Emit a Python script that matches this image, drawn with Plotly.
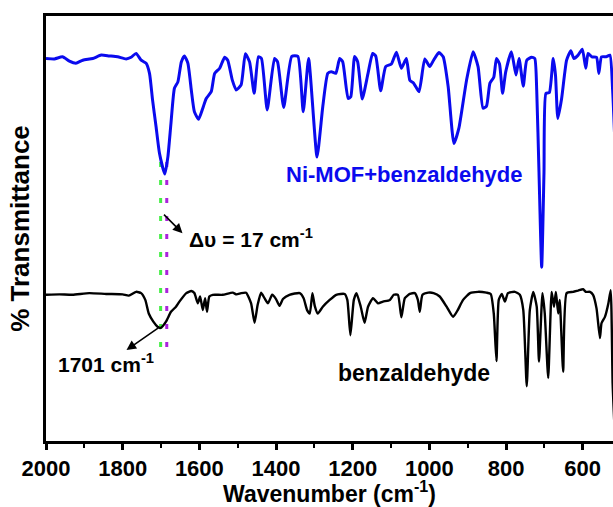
import plotly.graph_objects as go

# Ni-MOF + benzaldehyde spectrum (wavenumber, % transmittance offset)
ni_wn = [2000, 1978, 1957, 1939, 1922, 1904, 1878, 1856, 1835, 1813, 1791, 1778, 1765, 1752, 1739,
         1730, 1722, 1713, 1704, 1690, 1682, 1674, 1665, 1656, 1647, 1639, 1630, 1621, 1613, 1602,
         1591, 1582, 1569, 1560, 1547, 1534, 1526, 1514, 1504, 1491, 1480, 1469, 1457, 1446, 1438,
         1423, 1404, 1396, 1380, 1359, 1343, 1329, 1315, 1293, 1278, 1265, 1256, 1244, 1234, 1226,
         1212, 1205, 1195, 1187, 1175, 1160, 1148, 1140, 1127, 1114, 1099, 1086, 1073, 1060, 1051,
         1041, 1027, 1012, 999, 989, 975, 964, 951, 936, 923, 903, 886, 873, 860, 851, 842, 832,
         825, 817, 809, 801, 786, 774, 766, 755, 746, 733, 725, 720, 714, 707, 701, 696, 687, 677,
         671, 665, 655, 642, 631, 623, 612, 601, 592, 586, 576, 564, 558, 551, 539, 529, 522, 516]
ni_t = [90.0, 89.9, 90.4, 89.4, 88.9, 89.6, 90.0, 90.8, 90.6, 90.4, 89.9, 90.3, 91.2, 89.6, 88.9,
        86.5, 80.2, 74.0, 67.7, 62.8, 66.9, 74.8, 83.0, 84.5, 89.2, 90.6, 88.9, 82.6, 77.5, 75.7,
        78.3, 80.6, 82.2, 86.5, 87.7, 90.3, 89.6, 84.9, 82.6, 83.8, 91.1, 89.2, 81.8, 90.4, 90.0,
        77.9, 90.0, 89.2, 78.5, 90.5, 90.5, 77.5, 90.0, 66.8, 78.7, 86.5, 86.9, 86.5, 90.0, 89.2,
        80.6, 81.0, 90.5, 89.2, 80.5, 86.5, 91.2, 90.6, 82.4, 88.1, 88.7, 91.5, 87.7, 90.0, 84.9,
        84.2, 82.2, 89.9, 88.1, 89.6, 91.4, 90.4, 83.4, 70.0, 73.6, 84.9, 91.6, 88.1, 78.3, 78.8,
        84.2, 85.6, 90.0, 88.7, 81.8, 86.8, 91.6, 86.1, 90.0, 83.5, 89.6, 90.3, 90.0, 82.6, 63.1,
        40.9, 63.1, 81.8, 82.0, 90.0, 86.1, 75.9, 80.6, 89.6, 91.8, 90.0, 90.8, 92.2, 87.7, 91.2,
        90.4, 90.3, 86.5, 90.4, 90.4, 90.8, 82.6, 70.0]

# Benzaldehyde spectrum
bz_wn = [2000, 1965, 1931, 1887, 1843, 1800, 1784, 1765, 1752, 1741, 1732, 1720, 1709, 1701, 1687,
         1674, 1661, 1652, 1634, 1621, 1613, 1604, 1598, 1591, 1585, 1580, 1574, 1565, 1539, 1513,
         1503, 1491, 1478, 1465, 1456, 1448, 1439, 1430, 1421, 1410, 1400, 1391, 1382, 1365, 1338,
         1328, 1319, 1312, 1305, 1299, 1291, 1278, 1260, 1243, 1221, 1214, 1206, 1197, 1190, 1179,
         1169, 1160, 1147, 1134, 1121, 1103, 1093, 1082, 1073, 1064, 1051, 1038, 1030, 1025, 1018,
         1003, 989, 973, 955, 938, 926, 912, 894, 873, 851, 840, 832, 825, 819, 811, 803, 795, 777,
         764, 755, 746, 738, 729, 720, 714, 705, 699, 690, 681, 675, 670, 664, 660, 651, 642, 625,
         612, 599, 592, 581, 573, 564, 555, 551, 542, 533, 527, 522, 518]
bz_t = [34.4, 34.5, 34.4, 34.8, 34.6, 34.5, 34.2, 35.1, 34.8, 33.2, 30.0, 28.1, 26.9, 26.6, 28.1,
        30.4, 31.6, 32.8, 34.8, 35.3, 34.8, 32.4, 34.0, 30.8, 33.6, 30.4, 34.0, 34.4, 34.4, 34.9,
        34.5, 34.8, 34.9, 32.4, 27.8, 32.0, 34.9, 33.6, 32.4, 34.4, 33.4, 31.8, 33.4, 34.4, 34.8,
        33.6, 30.8, 30.0, 34.8, 31.8, 30.0, 31.6, 33.2, 34.4, 34.6, 33.2, 24.9, 33.2, 34.8, 31.6,
        27.8, 31.6, 33.6, 32.4, 32.8, 33.2, 34.4, 34.4, 29.1, 33.6, 34.6, 34.8, 33.2, 30.4, 34.4,
        34.9, 34.8, 34.0, 31.6, 29.2, 30.8, 33.2, 34.8, 35.1, 34.9, 34.6, 30.0, 18.8, 33.2, 34.6,
        32.8, 34.8, 35.1, 34.4, 30.8, 12.9, 30.8, 35.1, 31.6, 18.7, 34.8, 30.0, 14.8, 35.1, 31.6,
        35.1, 30.0, 33.2, 16.3, 34.8, 35.1, 35.4, 35.7, 35.1, 35.1, 34.4, 31.2, 24.2, 27.7, 29.2,
        32.4, 35.5, 13.6, 5.0]

# Marker lines (C=O band positions)
mark_wn = [1701, 1685]
mark_colors = ["#44ee44", "#aa22dd"]
mark_span = [22.1, 67.8]

FONT = "Liberation Sans, Arial, sans-serif"

fig = go.Figure()
for wn, col in zip(mark_wn, mark_colors):
    fig.add_trace(go.Scatter(x=[wn, wn], y=mark_span, mode="lines",
                             line=dict(color=col, width=3, dash="5px,13px"),
                             hoverinfo="skip", showlegend=False))
fig.add_trace(go.Scatter(x=ni_wn, y=ni_t, mode="lines",
                         line=dict(color="#0a0aee", width=3, shape="spline", smoothing=0.5),
                         showlegend=False))
fig.add_trace(go.Scatter(x=bz_wn, y=bz_t, mode="lines",
                         line=dict(color="black", width=2.4, shape="spline", smoothing=0.5),
                         showlegend=False))

annos = [
    dict(x=1064, y=62.6, text="<b>Ni-MOF+benzaldehyde</b>", showarrow=False,
         font=dict(size=22, color="#0a0aee", family=FONT), xanchor="center", yanchor="middle"),
    dict(x=1041, y=16.0, text="<b>benzaldehyde</b>", showarrow=False,
         font=dict(size=23, color="black", family=FONT), xanchor="center", yanchor="middle"),
    dict(x=1631, y=47.8, text="<b>Δυ = 17 cm<sup>-1</sup></b>", showarrow=False,
         font=dict(size=21, color="black", family=FONT), xanchor="left", yanchor="middle"),
    dict(x=1973, y=18.4, text="<b>1701 cm<sup>-1</sup></b>", showarrow=False,
         font=dict(size=21, color="black", family=FONT), xanchor="left", yanchor="middle"),
    dict(x=1644, y=48.9, text="", showarrow=True, arrowhead=2, arrowsize=1.2,
         arrowwidth=1.6, arrowcolor="black", ax=-20, ay=-20),
    dict(x=1790, y=21.4, text="", showarrow=True, arrowhead=2, arrowsize=1.2,
         arrowwidth=1.6, arrowcolor="black", ax=33, ay=-23),
]

fig.update_layout(
    width=613, height=507,
    margin=dict(l=46, r=0, t=16, b=66),
    paper_bgcolor="white", plot_bgcolor="white",
    font=dict(family=FONT, color="black"),
    annotations=annos,
    xaxis=dict(range=[2000, 521], showgrid=False, zeroline=False,
               showline=True, linewidth=3, linecolor="black", mirror=True,
               ticks="outside", ticklen=6, tickwidth=2.5, tickcolor="black",
               tickvals=[2000, 1800, 1600, 1400, 1200, 1000, 800, 600],
               ticktext=["<b>2000</b>", "<b>1800</b>", "<b>1600</b>", "<b>1400</b>",
                         "<b>1200</b>", "<b>1000</b>", "<b>800</b>", "<b>600</b>"],
               tickfont=dict(size=22, family=FONT),
               minor=dict(tickvals=[1900, 1700, 1500, 1300, 1100, 900, 700],
                          ticks="outside", ticklen=4, tickwidth=2, tickcolor="black"),
               title=dict(text="<b>Wavenumber (cm<sup>-1</sup>)</b>",
                          font=dict(size=23, family=FONT), standoff=9)),
    yaxis=dict(range=[0, 100], showgrid=False, zeroline=False,
               showline=True, linewidth=3, linecolor="black",
               showticklabels=False, ticks="",
               title=dict(text="<b>% Transmittance</b>",
                          font=dict(size=26, family=FONT), standoff=6)),
)

fig.write_html("out.html")
